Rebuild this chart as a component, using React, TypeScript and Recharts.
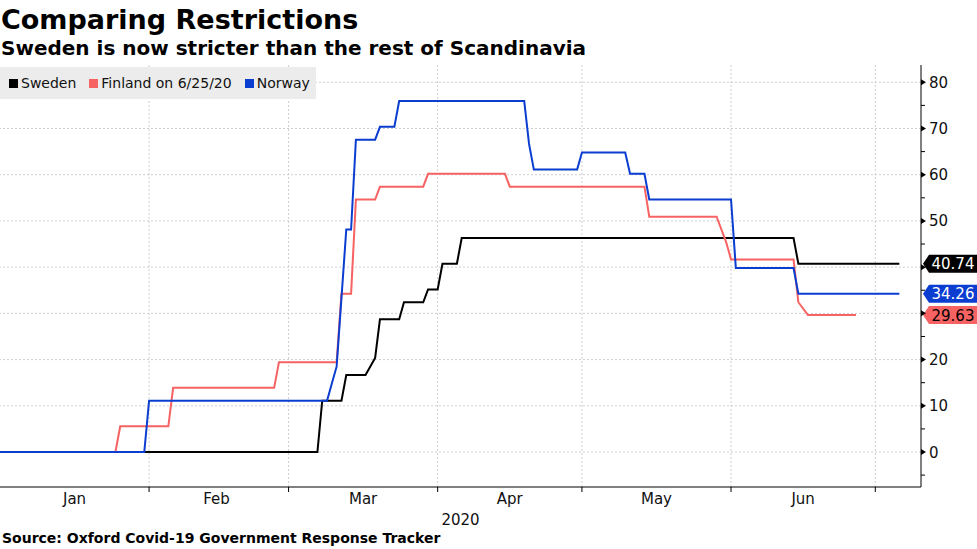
import React from "react";
import { LineChart, Line, XAxis, YAxis, ReferenceLine } from "recharts";

// Day index counted from Jan 1, 2020 (= 0)
const sweden: [number, number][] = [
  [0, 0], [66, 0], [67, 11.11], [71, 11.11], [72, 16.67], [76, 16.67], [78, 20.37], [79, 28.7],
  [83, 28.7], [84, 32.41], [88, 32.41], [89, 35.19], [91, 35.19], [92, 40.74], [95, 40.74],
  [96, 46.3], [165, 46.3], [166, 40.74], [187, 40.74],
];
const finland: [number, number][] = [
  [0, 0], [24, 0], [25, 5.56], [35, 5.56], [36, 13.89], [57, 13.89], [58, 19.44], [70, 19.44],
  [71, 34.26], [73, 34.26], [74, 54.63], [78, 54.63], [79, 57.41], [88, 57.41], [89, 60.19],
  [105, 60.19], [106, 57.41], [134, 57.41], [135, 50.93], [149, 50.93], [151, 45.37], [152, 41.67],
  [165, 41.67], [166, 32.41], [168, 29.63], [178, 29.63],
];
const norway: [number, number][] = [
  [0, 0], [30, 0], [31, 11.11], [68, 11.11], [69, 14.81], [70, 18.52], [72, 48.15], [73, 48.15],
  [74, 67.59], [78, 67.59], [79, 70.37], [82, 70.37], [83, 75.93], [109, 75.93], [110, 66.67],
  [111, 61.11], [120, 61.11], [121, 64.81], [130, 64.81], [131, 60.19], [134, 60.19], [135, 54.63],
  [152, 54.63], [153, 39.81], [165, 39.81], [166, 34.26], [187, 34.26],
];

const seriesNames = ["Sweden", "Finland on 6/25/20", "Norway"];
const seriesColors = ["#000000", "#f76262", "#0a3dd0"];
const lastValues = [40.74, 29.63, 34.26];
const tagTextColors = ["#ffffff", "#000000", "#ffffff"];

const monthStarts = [31, 60, 91, 121, 152, 182];
const monthMids = [15.5, 45, 75.5, 106, 136.5, 167];
const monthNames = ["Jan", "Feb", "Mar", "Apr", "May", "Jun"];
const yTicks = [-5, 0, 5, 10, 15, 20, 25, 30, 35, 40, 45, 50, 55, 60, 65, 70, 75, 80];
const yGrid = [0, 10, 20, 30, 40, 50, 60, 70, 80];
const yearLabel = "2020";

const FONT = "DejaVu Sans, Verdana, sans-serif";

const toRows = (pairs: [number, number][]) => pairs.map(([d, v]) => ({ d, v }));
const allSeries = [sweden, finland, norway].map(toRows);

const XTick = (props: any) => {
  const { x, y, payload } = props;
  const idx = monthMids.indexOf(payload.value);
  if (idx >= 0) {
    return (
      <text x={x} y={y + 17} textAnchor="middle" fontSize={15} fontFamily={FONT} fill="#111">
        {monthNames[idx]}
      </text>
    );
  }
  return <line x1={x} x2={x} y1={y} y2={y + 5} stroke="#000" strokeWidth={1} />;
};

// tick labels hidden behind the last-value tags
const coveredByTag = (v: number) => lastValues.some((lv) => Math.abs(lv - v) < 2.5);

const YTick = (props: any) => {
  const { x, y, payload } = props;
  const v = payload.value;
  if (v % 10 === 0) {
    return (
      <g>
        <polygon points={`${x},${y - 3} ${x + 5},${y} ${x},${y + 3}`} fill="#000" />
        {!coveredByTag(v) && (
          <text x={x + 8} y={y + 5.5} fontSize={15} fontFamily={FONT} fill="#111">
            {v}
          </text>
        )}
      </g>
    );
  }
  return <line x1={x} x2={x + 4} y1={y} y2={y} stroke="#000" strokeWidth={1} />;
};

const makeTag = (i: number) => (props: any) => {
  const vb = props.viewBox || {};
  const x0 = (vb.x || 0) + (vb.width || 0) + 2;
  const cy = vb.y || 0;
  const pts = `${x0},${cy} ${x0 + 6},${cy - 9} ${x0 + 56},${cy - 9} ${x0 + 56},${cy + 9} ${x0 + 6},${cy + 9}`;
  return (
    <g>
      <polygon points={pts} fill={seriesColors[i]} />
      <text x={x0 + 30} y={cy + 5.5} textAnchor="middle" fontSize={15} fontFamily={FONT} fill={tagTextColors[i]}>
        {lastValues[i].toFixed(2)}
      </text>
    </g>
  );
};

export default function App() {
  return (
    <div style={{ position: "absolute", left: 0, top: 0, width: 977, height: 549, background: "#fff", overflow: "hidden" }}>
      <div style={{ position: "absolute", left: 1, top: 6, fontFamily: FONT, fontWeight: 700, fontSize: 27, lineHeight: "27px", color: "#000", whiteSpace: "nowrap" }}>
        Comparing Restrictions
      </div>
      <div style={{ position: "absolute", left: 1, top: 38, fontFamily: FONT, fontWeight: 700, fontSize: 20, lineHeight: "20px", color: "#000", whiteSpace: "nowrap" }}>
        Sweden is now stricter than the rest of Scandinavia
      </div>
      <LineChart width={977} height={549} margin={{ top: 65, right: 0, bottom: 12, left: 0 }}>
        {monthStarts.map((d) => (
          <ReferenceLine key={"vx" + d} x={d} stroke="#cfcfcf" strokeDasharray="2 2" strokeWidth={1} />
        ))}
        {yGrid.map((v) => (
          <ReferenceLine key={"hy" + v} y={v} stroke="#cfcfcf" strokeDasharray="2 2" strokeWidth={1} />
        ))}
        <XAxis
          dataKey="d"
          type="number"
          domain={[0, 191.5]}
          allowDataOverflow
          ticks={[...monthStarts, ...monthMids].sort((a, b) => a - b)}
          interval={0}
          tick={XTick}
          tickLine={false}
          tickSize={0}
          tickMargin={0}
          axisLine={{ stroke: "#000", strokeWidth: 1 }}
          height={50}
          label={{ value: yearLabel, position: "insideBottom", offset: 12, fontSize: 15, fontFamily: FONT, fill: "#111" }}
        />
        <YAxis
          orientation="right"
          type="number"
          domain={[-7.57, 83.74]}
          allowDataOverflow
          ticks={yTicks}
          interval={0}
          tick={YTick}
          tickLine={false}
          tickSize={0}
          tickMargin={0}
          axisLine={{ stroke: "#000", strokeWidth: 1 }}
          width={56}
        />
        {allSeries.map((rows, i) => (
          <Line
            key={seriesNames[i]}
            data={rows}
            dataKey="v"
            name={seriesNames[i]}
            type="linear"
            stroke={seriesColors[i]}
            strokeWidth={2}
            dot={false}
            activeDot={false}
            isAnimationActive={false}
          />
        ))}
        {[0, 2, 1].map((i) => (
          <ReferenceLine key={"tag" + i} y={lastValues[i]} stroke="none" label={makeTag(i)} ifOverflow="visible" />
        ))}
      </LineChart>
      <div
        style={{
          position: "absolute", left: 0, top: 67, width: 316, height: 32, background: "#ececec",
          display: "flex", alignItems: "center", fontFamily: FONT, fontSize: 14, color: "#111", whiteSpace: "nowrap",
        }}
      >
        {seriesNames.map((n, i) => (
          <div key={n} style={{ display: "flex", alignItems: "center", marginLeft: i === 0 ? 9 : 13 }}>
            <span style={{ display: "inline-block", width: 9, height: 9, background: seriesColors[i], marginRight: 3 }} />
            <span>{n}</span>
          </div>
        ))}
      </div>
      <div style={{ position: "absolute", left: 2, top: 531, fontFamily: FONT, fontWeight: 700, fontSize: 14, lineHeight: "14px", color: "#000", whiteSpace: "nowrap" }}>
        Source: Oxford Covid-19 Government Response Tracker
      </div>
    </div>
  );
}
